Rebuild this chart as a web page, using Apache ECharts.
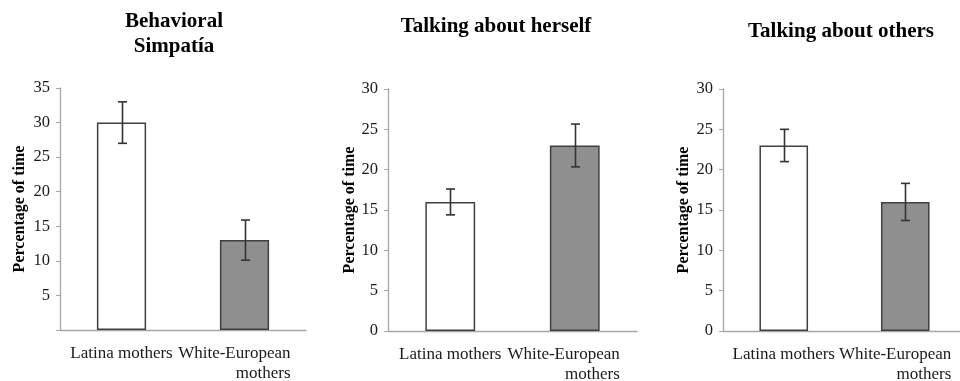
<!DOCTYPE html>
<html>
<head>
<meta charset="utf-8">
<script src="https://cdn.jsdelivr.net/npm/echarts@6/dist/echarts.min.js"></script>
<style>
  html, body { margin: 0; padding: 0; background: #fff; }
  #chart { width: 960px; height: 381px; }
</style>
</head>
<body>
<div id="chart"></div>
<script>
// Groups compared in every panel
const categories = ['Latina mothers', 'White-European\nmothers'];

// Panel titles
const titles = ['Behavioral\nSimpatía', 'Talking about herself', 'Talking about others'];

// Mean percentage of time per group
const simpatiaMeans = [30, 13];
const herselfMeans = [16, 23];
const othersMeans = [23, 16];

// Error bar half-widths per group
const simpatiaErrors = [3, 2.9];
const herselfErrors = [1.6, 2.65];
const othersErrors = [2, 2.3];

// Y axis ranges
const yMax = [35, 30, 30];
const yStep = 5;

const panels = [
  { means: simpatiaMeans, errors: simpatiaErrors },
  { means: herselfMeans, errors: herselfErrors },
  { means: othersMeans, errors: othersErrors }
];

const FONT = '"Liberation Serif", "Times New Roman", serif';
const barFills = ['#ffffff', '#8f8f8f'];

// Layout of each panel
const grids = [
  { left: 60, right: 654, top: 88, bottom: 51 },
  { left: 388, right: 323, top: 89, bottom: 50 },
  { left: 723, right: -6, top: 89, bottom: 50 }
];
const titlePos = [
  { left: 174, top: 9 },
  { left: 496, top: 14 },
  { left: 841, top: 19 }
];
const nameGaps = [32, 28, 31];
const whiteShift = [-46, -45, -46];

const chart = echarts.init(document.getElementById('chart'), null, { renderer: 'canvas' });

const option = {
  backgroundColor: '#fff',
  animation: false,
  title: titles.map((t, i) => ({
    text: t,
    left: titlePos[i].left,
    top: titlePos[i].top,
    padding: 0,
    textAlign: 'center',
    textStyle: {
      fontFamily: FONT, fontWeight: 'bold', fontSize: 21, lineHeight: 25, color: '#000'
    }
  })),
  grid: grids.map(g => Object.assign({ containLabel: false, outerBoundsMode: 'none' }, g)),
  xAxis: panels.map((p, i) => ({
    type: 'category',
    gridIndex: i,
    data: categories.map((c, k) => k === 1
      ? { value: c, textStyle: { align: 'right', padding: [0, whiteShift[i], 0, 0] } }
      : { value: c }),
    axisLine: { lineStyle: { color: '#a6a6a6', width: 1.3 } },
    axisTick: { show: false },
    axisLabel: {
      interval: 0,
      margin: 14,
      fontFamily: FONT,
      fontSize: 17,
      lineHeight: 20,
      color: '#1a1a1a'
    }
  })),
  yAxis: panels.map((p, i) => ({
    type: 'value',
    gridIndex: i,
    min: 0,
    max: yMax[i],
    interval: yStep,
    name: 'Percentage of time',
    nameLocation: 'middle',
    nameGap: nameGaps[i],
    nameTextStyle: { fontFamily: FONT, fontWeight: 'bold', fontSize: 16, color: '#000' },
    axisLine: { show: true, lineStyle: { color: '#a6a6a6', width: 1.3 } },
    axisTick: { show: true, length: 4, lineStyle: { color: '#a6a6a6' } },
    splitLine: { show: false },
    axisLabel: {
      margin: 10,
      fontFamily: FONT,
      fontSize: 16.5,
      color: '#1a1a1a',
      formatter: v => (i === 0 && v === 0) ? '' : String(v)
    }
  })),
  series: []
};

panels.forEach((p, i) => {
  option.series.push({
    type: 'bar',
    xAxisIndex: i,
    yAxisIndex: i,
    barWidth: '40%',
    data: p.means.map((v, k) => ({
      value: v,
      itemStyle: { color: barFills[k], borderColor: '#404040', borderWidth: 1.5 }
    }))
  });
  option.series.push({
    type: 'custom',
    xAxisIndex: i,
    yAxisIndex: i,
    z: 5,
    data: p.means.map((v, k) => [k, v - p.errors[k], v + p.errors[k]]),
    renderItem: (params, api) => {
      const lo = api.coord([api.value(0), api.value(1)]);
      const hi = api.coord([api.value(0), api.value(2)]);
      const x = Math.round(lo[0]) + 0.5;
      const cap = 4.5;
      const style = { stroke: '#333', lineWidth: 1.6 };
      return {
        type: 'group',
        children: [
          { type: 'line', shape: { x1: x, y1: hi[1], x2: x, y2: lo[1] }, style },
          { type: 'line', shape: { x1: x - cap, y1: hi[1], x2: x + cap, y2: hi[1] }, style },
          { type: 'line', shape: { x1: x - cap, y1: lo[1], x2: x + cap, y2: lo[1] }, style }
        ]
      };
    }
  });
});

chart.setOption(option);
</script>
</body>
</html>
